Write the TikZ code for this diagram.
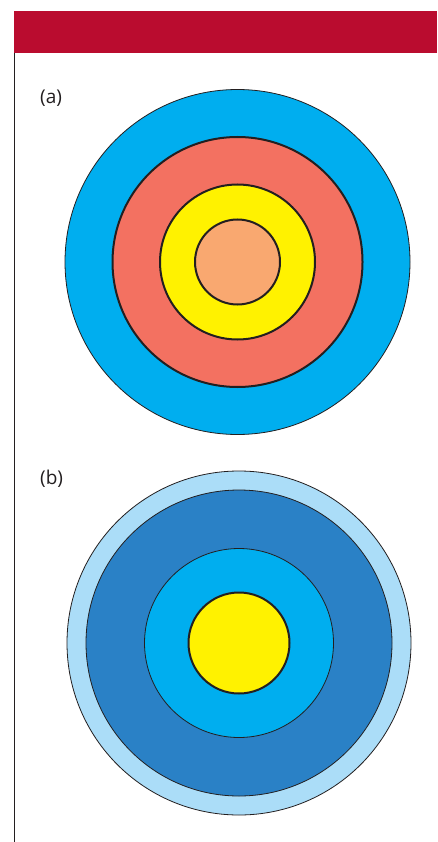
\documentclass[tikz,border=0pt]{standalone}
\usepackage{fontspec}
\setmainfont{Open Sans}
\definecolor{barred}{HTML}{BA0C2F}
\definecolor{cyanb}{HTML}{00AEEF}
\definecolor{salmon}{HTML}{F37161}
\definecolor{yel}{HTML}{FFF200}
\definecolor{peach}{HTML}{F9A870}
\definecolor{lightb}{HTML}{ABDDF8}
\definecolor{darkb}{HTML}{2A81C6}
\definecolor{edge}{HTML}{231F20}
\begin{document}
\begin{tikzpicture}[x=1pt,y=-1pt,
  thinring/.style={draw=edge,line width=0.8pt},
  thickring/.style={draw=edge,line width=2pt},
  lbl/.style={anchor=west,inner sep=0pt,font=\fontsize{19}{22}\selectfont,text=edge}]
\useasboundingbox (0,0) rectangle (437,842);
\fill[white] (0,0) rectangle (437,842);
\fill[barred] (14,11) rectangle (437,53);
\draw[edge,line width=1.2pt] (14.6,53) -- (14.6,842);
% (a)
\node[lbl] (la) at (40,98) {(a)};
\coordinate (ca) at (237.5,262);
\filldraw[fill=cyanb,thinring] (ca) circle (172.5);
\filldraw[fill=salmon,thickring] (ca) circle (125);
\filldraw[fill=yel,thickring] (ca) circle (77.5);
\filldraw[fill=peach,thickring] (ca) circle (42.5);
% (b)
\node[lbl] (lb) at (40,479) {(b)};
\coordinate (cb) at (239,643);
\filldraw[fill=lightb,thinring] (cb) circle (172);
\filldraw[fill=darkb,thinring] (cb) circle (153);
\filldraw[fill=cyanb,thinring] (cb) circle (94.5);
\filldraw[fill=yel,thickring] (cb) circle (50.5);
\end{tikzpicture}
\end{document}
